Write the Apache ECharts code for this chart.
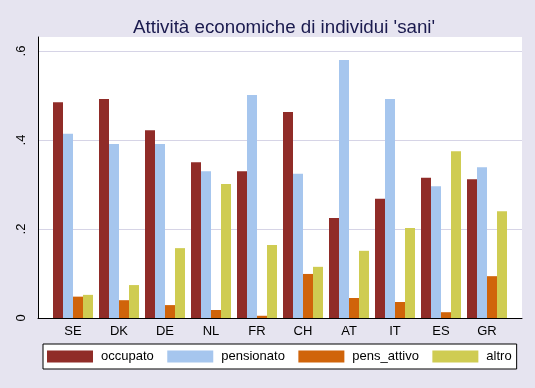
<!DOCTYPE html>
<html>
<head>
<meta charset="utf-8">
<script src="https://cdn.jsdelivr.net/npm/echarts@6/dist/echarts.min.js"></script>
<style>
html,body{margin:0;padding:0;background:#e6e4f0;}
#c{width:535px;height:388px;}
</style>
</head>
<body>
<div id="c"></div>
<script>
const categories = ['SE','DK','DE','NL','FR','CH','AT','IT','ES','GR'];
const occupato    = [0.485,0.492,0.422,0.350,0.330,0.463,0.225,0.268,0.315,0.312];
const pensionato  = [0.414,0.391,0.391,0.330,0.501,0.324,0.580,0.492,0.296,0.339];
const pens_attivo = [0.048,0.040,0.029,0.018,0.005,0.099,0.045,0.036,0.013,0.094];
const altro       = [0.052,0.074,0.157,0.301,0.164,0.115,0.151,0.202,0.375,0.240];
const yTicks = {0:'0', 0.2:'.2', 0.4:'.4', 0.6:'.6'};

const FONT = 'Liberation Sans, Arial, sans-serif';
const chart = echarts.init(document.getElementById('c'));
const YMAX = 0.6315;
function bar(name, data, color){
  return {name, type:'bar', data, xAxisIndex:1, yAxisIndex:1,
    barWidth:10, barGap:'0%', itemStyle:{color}, animation:false};
}
chart.setOption({
  backgroundColor:'#e6e4f0',
  animation:false,
  textStyle:{fontFamily:FONT},
  title:{text:"Attività economiche di individui 'sani'", left:128, top:13,
    textStyle:{fontSize:18.75, fontWeight:'normal', color:'#1a1a4e', fontFamily:FONT}},
  grid:[
    {left:38, right:13, top:37, bottom:70, show:true, backgroundColor:'#ffffff', borderWidth:0, containLabel:false},
    {left:50, width:460, top:37, bottom:70, containLabel:false}
  ],
  xAxis:[
    {gridIndex:0, type:'value', min:0, max:1, axisLine:{show:true, onZero:false, lineStyle:{color:'#000', width:1}},
      axisTick:{show:false}, axisLabel:{show:false}, splitLine:{show:false}},
    {gridIndex:1, type:'category', data:categories, axisLine:{show:false}, axisTick:{show:false},
      axisLabel:{fontSize:13, color:'#000', margin:7, fontFamily:FONT}, splitLine:{show:false}}
  ],
  yAxis:[
    {gridIndex:0, type:'value', min:0, max:YMAX, interval:0.2,
      axisLine:{show:true, lineStyle:{color:'#000', width:1}}, axisTick:{show:false},
      axisLabel:{rotate:90, fontSize:13, color:'#000', margin:10, showMaxLabel:false, fontFamily:FONT,
        formatter:v=>{const k=Math.round(v*10)/10; return yTicks[k]!==undefined?yTicks[k]:'';}},
      splitLine:{show:true, showMinLine:false, showMaxLine:false, lineStyle:{color:'#d6d4e6', width:1}}},
    {gridIndex:1, type:'value', min:0, max:YMAX, interval:0.2, show:false, splitLine:{show:false}}
  ],
  legend:{
    left:43, top:344, orient:'horizontal', padding:[6,5,6,4], itemGap:13.5,
    itemWidth:46, itemHeight:12, backgroundColor:'#ffffff', borderColor:'#000', borderWidth:1, borderRadius:0,
    icon:'rect', textStyle:{fontSize:13, color:'#000', padding:[0,0,0,3], fontFamily:FONT},
    data:['occupato','pensionato','pens_attivo','altro']
  },
  series:[
    bar('occupato', occupato, '#902c28'),
    bar('pensionato', pensionato, '#a6c6ee'),
    bar('pens_attivo', pens_attivo, '#d0640a'),
    bar('altro', altro, '#cfcc52')
  ]
});
</script>
</body>
</html>
